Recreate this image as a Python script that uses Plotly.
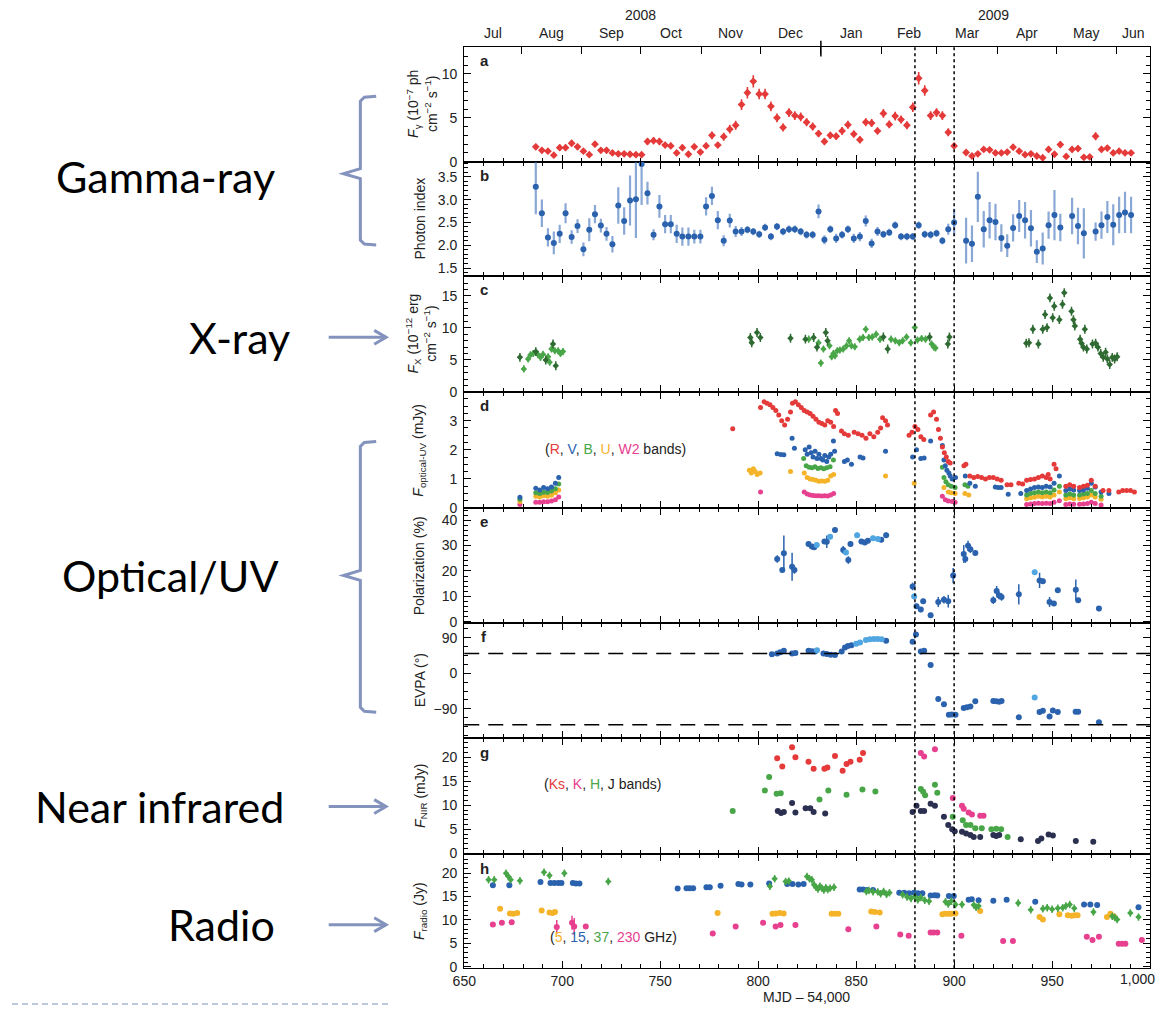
import plotly.graph_objects as go

# design space = reference pixels; the figure is drawn at the page origin
FW, FH = 1158, 1018
def px(x): return x / FW
def py(y): return 1 - y / FH

# ---------------- DATA ----------------
# a: gamma-ray flux (1e-7 ph cm-2 s-1)
gam_t = [686.5, 689.6, 692.7, 695.7, 698.7, 701.7, 704.8, 707.8, 710.8, 713.8, 716.7, 719.7, 722.6, 725.6, 728.6,
         731.6, 734.6, 737.6, 740.5, 743.5, 746.6, 749.6, 752.5, 755.4, 758.4, 761.3, 764.4, 767.4, 770.5, 773.4,
         776.4, 779.4, 782.4, 785.5, 788.5, 791.5, 794.5, 797.5, 800.5, 803.5, 806.5, 809.6, 812.7, 815.7, 818.7,
         821.7, 824.7, 827.8, 830.8, 833.8, 836.8, 839.8, 842.8, 845.8, 848.8, 851.9, 854.9, 857.9, 860.9, 863.9,
         866.9, 869.9, 872.9, 875.9, 878.9, 881.9, 885.0, 888.0, 891.0, 894.0, 897.0, 900.0, 906.1, 909.1, 912.1,
         915.1, 918.1, 921.1, 924.1, 927.1, 930.1, 933.2, 936.2, 939.2, 942.2, 945.2, 948.2, 951.2, 954.2, 957.2,
         960.2, 963.2, 966.2, 969.2, 972.2, 975.2, 978.2, 981.2, 984.2, 987.2, 990.3]
gam_f = [1.7, 1.3, 1.2, 0.75, 1.6, 1.6, 2.1, 1.7, 1.2, 0.8, 2.0, 1.3, 1.3, 1.0, 0.9,
         0.9, 0.85, 0.8, 0.8, 2.3, 2.4, 2.3, 1.9, 1.8, 1.0, 1.6, 0.85, 1.7, 1.1, 1.8,
         3.0, 1.9, 2.85, 3.7, 4.15, 6.5, 7.85, 9.15, 7.7, 7.7, 6.3, 5.0, 3.9, 5.6, 5.25,
         5.1, 4.5, 4.0, 3.2, 2.3, 3.0, 2.9, 3.5, 4.2, 3.15, 2.5, 4.5, 4.4, 3.5, 5.5,
         4.25, 5.2, 4.8, 4.15, 6.2, 9.5, 8.1, 5.25, 5.6, 5.25, 3.35, 1.8, 1.05, 0.65, 0.9,
         1.4, 1.35, 1.0, 1.0, 1.1, 1.65, 1.2, 0.8, 0.9, 0.65, 0.45, 1.4, 0.85, 1.95, 0.6,
         1.4, 1.5, 0.5, 0.55, 2.9, 1.4, 1.55, 1.0, 1.2, 1.0, 1.0]
gam_e = [0.35, 0.3, 0.3, 0.3, 0.35, 0.35, 0.35, 0.35, 0.3, 0.3, 0.35, 0.3, 0.3, 0.3, 0.3,
         0.3, 0.3, 0.3, 0.3, 0.4, 0.4, 0.4, 0.35, 0.35, 0.3, 0.35, 0.3, 0.35, 0.3, 0.35,
         0.45, 0.35, 0.45, 0.5, 0.5, 0.6, 0.65, 0.7, 0.6, 0.6, 0.55, 0.5, 0.45, 0.5, 0.5,
         0.5, 0.45, 0.45, 0.4, 0.35, 0.4, 0.4, 0.45, 0.45, 0.4, 0.4, 0.45, 0.45, 0.4, 0.5,
         0.45, 0.5, 0.45, 0.45, 0.55, 0.7, 0.6, 0.5, 0.5, 0.5, 0.45, 0.35, 0.3, 0.3, 0.3,
         0.3, 0.3, 0.3, 0.3, 0.3, 0.35, 0.3, 0.3, 0.3, 0.3, 0.3, 0.35, 0.3, 0.4, 0.3,
         0.35, 0.35, 0.3, 0.3, 0.45, 0.35, 0.35, 0.3, 0.3, 0.3, 0.3]

# b: photon index
idx_t = [686.5, 689.6, 692.7, 695.7, 698.7, 701.7, 704.8, 707.8, 710.8, 713.8, 716.7, 719.7, 722.6, 725.6, 728.6,
         731.6, 734.6, 737.6, 740.5, 743.5, 746.6, 749.6, 752.5, 755.4, 758.4, 761.3, 764.4, 767.4, 770.5, 773.4,
         776.4, 779.4, 782.4, 785.5, 788.5, 791.5, 794.5, 797.5, 800.5, 803.5, 806.5, 809.6, 812.7, 815.7, 818.7,
         821.7, 824.7, 827.8, 830.8, 833.8, 836.8, 839.8, 842.8, 845.8, 848.8, 851.9, 854.9, 857.9, 860.9, 863.9,
         866.9, 869.9, 872.9, 875.9, 878.9, 881.9, 885.0, 888.0, 891.0, 894.0, 897.0, 900.0, 906.1, 909.1, 912.1,
         915.1, 918.1, 921.1, 924.1, 927.1, 930.1, 933.2, 936.2, 939.2, 942.2, 945.2, 948.2, 951.2, 954.2,
         960.2, 963.2, 966.2, 972.2, 975.2, 978.2, 981.2, 984.2, 987.2, 990.3]
idx_v = [3.28, 2.7, 2.17, 2.05, 2.25, 2.7, 2.18, 2.42, 1.91, 2.34, 2.68, 2.43, 2.25, 2.02, 2.87,
         2.53, 2.98, 3.01, 3.78, 3.14, 2.23, 2.85, 2.46, 2.46, 2.25, 2.19, 2.19, 2.19, 2.19, 2.85,
         3.08, 2.55, 2.1, 2.54, 2.3, 2.3, 2.34, 2.3, 2.24, 2.39, 2.19, 2.41, 2.3, 2.35, 2.35,
         2.3, 2.23, 2.23, 2.74, 2.12, 2.35, 2.15, 2.23, 2.35, 2.15, 2.19, 2.53, 2.04, 2.3, 2.24,
         2.28, 2.44, 2.19, 2.19, 2.19, 2.44, 2.24, 2.23, 2.26, 2.1, 2.35, 2.5, 2.1, 2.03, 3.06,
         2.35, 2.55, 2.51, 2.16, 1.99, 2.38, 2.64, 2.55, 2.37, 1.86, 1.93, 2.44, 2.66, 2.39,
         2.64, 2.42, 2.26, 2.3, 2.44, 2.62, 2.45, 2.66, 2.72, 2.66]
idx_e = [0.6, 0.3, 0.2, 0.25, 0.2, 0.22, 0.15, 0.15, 0.15, 0.25, 0.2, 0.15, 0.15, 0.18, 0.4,
         0.3, 0.55, 0.85, 0.9, 0.25, 0.12, 0.25, 0.2, 0.2, 0.2, 0.2, 0.2, 0.15, 0.15, 0.2,
         0.2, 0.2, 0.12, 0.15, 0.12, 0.1, 0.08, 0.08, 0.08, 0.08, 0.08, 0.08, 0.08, 0.08, 0.08,
         0.08, 0.08, 0.08, 0.15, 0.1, 0.08, 0.1, 0.08, 0.08, 0.1, 0.1, 0.12, 0.1, 0.1, 0.08,
         0.08, 0.08, 0.08, 0.08, 0.08, 0.08, 0.08, 0.08, 0.08, 0.08, 0.12, 0.3, 0.5, 0.4, 0.55,
         0.4, 0.4, 0.4, 0.3, 0.25, 0.3, 0.35, 0.4, 0.4, 0.25, 0.35, 0.3, 0.55, 0.3,
         0.4, 0.4, 0.55, 0.2, 0.3, 0.35, 0.45, 0.4, 0.45, 0.4]

# c: X-ray flux (1e-12 erg cm-2 s-1), dark and light green series
xd_t = [678.4, 686.5, 691.6, 695.3, 696.7, 796.0, 796.7, 799.4, 801.1, 816.5, 824.1, 828.3, 830.0, 834.5, 835.4,
        863.9, 866.1, 887.5, 896.8, 897.6, 936.8, 938.2, 940.2, 943.0, 945.2, 946.4, 947.4, 948.9, 950.3, 951.1,
        953.7, 955.3, 956.2, 959.9, 960.9, 961.6, 964.3, 965.0, 966.0, 966.7, 967.7, 970.6, 972.2, 973.4, 974.8,
        976.1, 977.3, 978.2, 979.4, 980.7, 981.9, 983.2]
xd_v = [5.4, 6.3, 5.0, 7.5, 4.1, 8.5, 7.7, 9.3, 8.5, 8.4, 8.25, 8.5, 7.0, 9.3, 8.0,
        8.6, 6.7, 8.6, 7.5, 8.6, 7.6, 7.7, 9.8, 7.5, 9.8, 12.1, 10.05, 14.7, 11.6, 13.4,
        11.3, 13.7, 15.5, 12.6, 11.3, 10.3, 8.25, 7.6, 7.0, 9.8, 6.7, 7.5, 7.6, 7.0, 6.0,
        5.4, 6.2, 5.15, 4.3, 5.4, 5.15, 5.5]
xl_t = [680.4, 682.6, 683.8, 685.2, 687.7, 688.9, 690.2, 692.8, 693.6, 694.5, 696.2, 697.9, 699.1, 700.4,
        825.8, 830.8, 832.0, 833.3, 836.4, 837.5, 838.4, 839.2, 840.4, 841.7, 843.4, 845.1, 846.4, 847.6, 849.3,
        851.8, 853.5, 854.9, 856.5, 858.2, 860.2, 862.2, 867.8, 870.0, 872.0, 873.7, 875.7, 877.9, 879.9, 881.3,
        883.4, 885.4, 888.5, 889.7, 890.5]
xl_v = [3.6, 5.15, 5.8, 6.0, 5.8, 5.4, 5.9, 5.5, 4.65, 6.7, 6.45, 6.45, 6.0, 6.3,
        8.25, 7.7, 4.5, 6.7, 7.2, 5.5, 6.0, 5.65, 6.45, 6.55, 6.7, 7.2, 8.0, 7.2, 7.05,
        8.25, 8.5, 9.8, 8.5, 8.6, 9.0, 8.25, 8.25, 8.0, 7.7, 8.0, 8.6, 7.7, 10.05, 8.1,
        8.35, 8.25, 7.5, 7.0, 6.85]

# d: optical-UV flux (mJy)
R_t = [787.0, 801.2, 803.0, 804.5, 806.0, 807.5, 809.0, 810.5, 812.0, 813.5, 815.0, 816.5, 817.5, 819.0, 820.5,
       822.0, 823.5, 825.0, 826.5, 828.0, 829.5, 831.0, 832.5, 834.0, 835.5, 837.0, 838.5, 839.5, 840.5, 842.5,
       844.0, 846.0, 849.0, 851.0, 853.0, 855.0, 857.0, 859.0, 861.0, 862.5, 863.5, 865.0, 866.0, 877.0, 878.5,
       880.0, 881.5, 883.0, 884.5, 888.0, 889.5, 891.0, 892.0, 893.0, 894.0, 895.0, 896.0, 897.0, 898.0, 905.0,
       906.0, 908.0, 910.0, 912.0, 914.0, 916.0, 918.0, 920.0, 922.0, 924.0, 927.0, 929.0, 933.0, 935.0, 937.0,
       939.0, 941.0, 943.0, 945.0, 947.0, 948.0, 949.0, 951.0, 952.0, 957.0, 959.0, 961.0, 964.0, 966.0, 968.0,
       970.0, 972.0, 976.0, 979.0, 984.0, 986.0, 988.0, 990.0, 992.0]
R_v = [2.72, 3.45, 3.65, 3.6, 3.55, 3.45, 3.35, 3.2, 3.0, 2.85, 3.05, 3.3, 3.6, 3.65, 3.55,
       3.45, 3.35, 3.3, 3.25, 3.15, 3.05, 2.95, 2.9, 2.85, 3.0, 2.95, 2.8, 3.35, 3.25, 2.65,
       2.55, 2.5, 2.6, 2.55, 2.5, 2.4, 2.55, 2.45, 2.6, 2.75, 3.1, 3.0, 2.85, 2.5, 2.6,
       2.8, 2.7, 2.45, 2.35, 3.2, 3.3, 3.05, 2.7, 2.4, 2.1, 1.9, 1.75, 1.6, 1.55, 1.45,
       1.5, 1.1, 1.05, 1.08, 1.05, 1.0, 1.05, 1.05, 1.0, 0.95, 0.8, 0.8, 0.85, 0.82, 0.95,
       0.98, 1.0, 1.05, 1.1, 1.05, 1.15, 1.0, 1.5, 1.35, 0.75, 0.8, 0.75, 0.7, 0.75, 0.78,
       0.95, 0.75, 0.6, 0.6, 0.55, 0.6, 0.6, 0.6, 0.55]
V_t = [678.4, 686.5, 688.5, 690.5, 692.5, 694.5, 696.5, 698.2, 809.7, 811.5, 813.1, 817.3, 818.5, 824.0, 825.0,
       826.0, 827.0, 828.0, 829.0, 830.0, 831.0, 832.0, 833.0, 834.0, 835.0, 836.0, 837.0, 838.4, 839.0, 844.0,
       845.5, 847.6, 852.0, 853.5, 865.0, 878.8, 880.8, 883.0, 884.7, 888.0, 894.0, 894.8, 895.5, 896.3, 897.3,
       898.0, 899.0, 900.7, 905.7, 908.0, 910.8, 921.0, 922.5, 924.0, 927.6, 934.0, 937.0, 939.0, 941.0, 943.0,
       945.0, 947.0, 949.0, 951.0, 953.7, 957.0, 959.0, 961.0, 964.0, 966.0, 968.0, 970.0, 972.0, 975.0, 979.0]
V_v = [0.37, 0.68, 0.62, 0.7, 0.66, 0.72, 0.85, 1.05, 1.86, 1.84, 1.83, 2.4, 2.05, 2.0, 1.85,
       2.1, 1.9, 1.75, 1.95, 1.7, 1.85, 1.7, 1.65, 1.8, 1.6, 1.75, 1.85, 2.3, 1.95, 1.6,
       1.65, 1.5, 1.75, 1.72, 1.95, 1.75, 2.0, 1.7, 1.72, 2.3, 2.15, 1.65, 1.45, 1.3, 1.2,
       1.1, 1.0, 1.05, 1.1, 0.85, 0.75, 0.72, 0.7, 0.7, 0.47, 0.5, 0.6, 0.65, 0.7, 0.72,
       0.7, 0.75, 0.72, 0.85, 1.1, 0.6, 0.65, 0.62, 0.6, 0.62, 0.68, 0.85, 0.72, 0.55, 0.5]
B_t = [678.4, 686.5, 688.5, 690.5, 692.5, 694.5, 696.5, 698.2, 823.2, 824.5, 826.0, 827.5, 829.0, 830.5, 832.0,
       833.5, 835.0, 836.7, 838.4, 894.0, 894.8, 895.8, 897.0, 898.5, 900.5, 905.5, 907.0, 937.0, 939.0, 941.0,
       943.0, 945.0, 947.0, 949.0, 951.0, 953.7, 957.0, 959.0, 961.0, 964.0, 966.0, 968.0, 970.0, 972.0, 975.0]
B_v = [0.3, 0.52, 0.5, 0.54, 0.53, 0.58, 0.66, 0.82, 1.7, 1.45, 1.4, 1.38, 1.42, 1.36, 1.38,
       1.35, 1.38, 1.42, 1.65, 1.4, 1.05, 0.9, 0.8, 0.75, 0.7, 0.8, 0.75, 0.45, 0.5, 0.52,
       0.55, 0.52, 0.55, 0.52, 0.62, 0.75, 0.45, 0.48, 0.45, 0.45, 0.48, 0.5, 0.6, 0.5, 0.4]
U_t = [678.4, 686.5, 688.5, 690.5, 692.5, 694.5, 696.5, 698.2, 795.5, 796.5, 797.5, 798.5, 799.5, 801.0, 816.5,
       823.5, 825.0, 826.5, 828.0, 829.5, 831.0, 832.5, 834.0, 835.5, 837.0, 838.5, 865.0, 879.6, 894.8, 897.0,
       898.5, 900.5, 905.5, 907.5, 937.0, 939.0, 941.0, 943.0, 945.0, 947.0, 949.0, 951.0, 953.7, 957.0, 959.0,
       961.0, 964.0, 966.0, 968.0, 970.0, 972.0, 975.0]
U_v = [0.22, 0.4, 0.38, 0.42, 0.4, 0.44, 0.52, 0.62, 1.3, 1.2, 1.35, 1.25, 1.15, 1.2, 1.25,
       1.2, 1.05, 1.0, 0.98, 0.95, 0.92, 0.93, 0.92, 0.95, 1.1, 1.15, 1.1, 0.85, 0.7, 0.55,
       0.52, 0.5, 0.5, 0.45, 0.32, 0.35, 0.37, 0.4, 0.38, 0.4, 0.38, 0.45, 0.55, 0.32, 0.35,
       0.32, 0.33, 0.35, 0.38, 0.45, 0.38, 0.3]
W2_t = [678.4, 686.5, 688.5, 690.5, 692.5, 694.5, 696.5, 698.2, 801.2, 823.5, 825.0, 826.5, 828.0, 829.5, 831.0,
        832.5, 834.0, 835.5, 837.0, 838.5, 894.0, 895.5, 897.0, 899.0, 900.5, 937.0, 939.0, 941.0, 943.0, 945.0,
        947.0, 949.0, 951.0, 953.7, 957.0, 959.0, 961.0, 964.0, 966.0, 968.0, 970.0, 972.0, 975.0]
W2_v = [0.12, 0.2, 0.2, 0.21, 0.21, 0.24, 0.28, 0.38, 0.55, 0.55, 0.48, 0.45, 0.43, 0.42, 0.42,
        0.41, 0.42, 0.41, 0.45, 0.5, 0.4, 0.28, 0.24, 0.22, 0.2, 0.12, 0.14, 0.15, 0.16, 0.15,
        0.16, 0.15, 0.2, 0.25, 0.12, 0.14, 0.13, 0.13, 0.14, 0.15, 0.2, 0.15, 0.1]

# e: optical polarization degree (%)
pol_t = [809.7, 812.3, 813.1, 817.3, 818.5, 825.7, 827.4, 828.6, 833.8, 835.0, 839.2, 843.4, 846.0, 847.1, 852.7,
         854.4, 856.0, 862.8, 865.3, 878.8, 880.8, 883.0, 884.2, 888.0, 891.9, 894.8, 897.0, 899.5, 904.9, 905.7,
         907.1, 908.3, 910.8, 920.0, 921.7, 922.9, 924.2, 933.0, 943.6, 945.3, 948.7, 950.9, 952.9, 962.1, 963.3,
         973.9]
pol_v = [24.7, 20.4, 27.0, 21.7, 20.4, 30.6, 29.6, 29.3, 31.6, 31.5, 36.1, 28.3, 24.3, 30.6, 31.6,
         31.2, 31.9, 32.3, 34.1, 13.9, 6.1, 4.8, 8.1, 2.6, 7.8, 8.7, 8.1, 18.2, 26.7, 24.7,
         29.9, 28.6, 27.1, 8.5, 12.1, 10.4, 9.8, 10.8, 16.3, 16.0, 7.8, 7.2, 12.4, 12.6, 8.5,
         5.2]
pol_e = [1.5, 1.0, 7.0, 5.5, 1.5, 1.0, 1.0, 1.0, 1.0, 2.5, 1.0, 1.5, 1.5, 1.0, 1.0,
         1.0, 1.0, 1.0, 1.0, 1.5, 1.0, 1.0, 1.0, 1.0, 2.0, 1.5, 2.5, 3.0, 3.5, 1.5,
         2.0, 1.5, 1.0, 1.5, 2.0, 1.5, 1.5, 4.0, 3.0, 1.0, 2.0, 1.0, 1.0, 4.0, 1.0,
         1.0]
polL_t = [829.9, 836.7, 844.8, 850.5, 858.6, 861.1, 879.6, 941.1]
polL_v = [30.2, 33.5, 27.3, 34.1, 32.9, 32.6, 10.0, 19.5]

# f: EVPA (deg)
evpa_t = [807.0, 809.7, 811.3, 813.1, 817.3, 819.0, 825.7, 827.4, 829.0, 833.3, 835.0, 837.0, 839.2, 842.6, 844.3,
          845.8, 847.6, 865.3, 878.8, 880.5, 883.0, 884.7, 888.0, 891.9, 894.8, 897.3, 898.8, 900.7, 904.9, 906.5,
          908.3, 910.8, 920.0, 921.5, 923.0, 924.2, 933.0, 943.6, 945.3, 948.7, 950.4, 952.9, 962.0, 963.3, 973.9]
evpa_v = [48, 50, 53, 57, 50, 51, 57, 56, 55, 50, 49, 47, 46, 55, 65,
          69, 71, 82, 80, 98, 55, 57, 21, -65, -78, -105, -104, -105, -88, -86,
          -84, -71, -70, -71, -72, -70, -111, -98, -95, -109, -94, -98, -97, -97, -124]
evpaL_t = [830.0, 850.0, 852.0, 855.0, 857.0, 859.0, 861.0, 863.0, 941.1]
evpaL_v = [58, 75, 78, 84, 86, 87, 87, 86, -61]
evpa_ref = [50, -130]

# g: near-infrared flux (mJy)
Ks_t = [809.7, 812.3, 817.3, 819.0, 825.7, 828.3, 833.8, 835.3, 839.2, 843.1, 845.1, 847.1, 851.8, 853.5]
Ks_v = [19.8, 18.1, 22.1, 20.0, 19.1, 17.6, 17.6, 17.9, 20.3, 17.2, 18.6, 19.1, 19.5, 20.9]
K_t = [883.0, 884.7, 890.2, 899.3, 904.0, 904.9, 907.4, 909.1, 913.3, 915.0]
K_v = [20.9, 20.2, 21.7, 11.5, 9.9, 9.3, 8.5, 8.1, 7.8, 7.8]
Hb_t = [787.0, 803.4, 805.6, 809.4, 811.5, 831.3, 835.8, 845.1, 853.2, 859.8, 883.0, 884.2, 885.2, 890.2, 891.4,
        899.3, 904.4, 906.1, 908.3, 910.8, 914.1, 919.0, 921.5, 924.0, 927.3]
Hb_v = [8.8, 13.1, 15.9, 12.4, 12.5, 11.2, 13.1, 12.2, 13.3, 12.9, 13.4, 12.8, 12.1, 14.3, 12.6,
        7.6, 6.9, 5.9, 5.9, 5.2, 5.2, 5.0, 5.1, 5.0, 3.4]
J_t = [810.0, 811.7, 813.1, 817.3, 819.0, 824.2, 826.6, 828.3, 834.2, 878.8, 880.8, 883.0, 884.7, 888.0, 890.2,
       894.8, 897.0, 899.0, 900.3, 904.0, 906.1, 908.3, 910.0, 913.3, 920.0, 921.5, 923.0, 934.0, 942.8, 944.5,
       948.2, 950.4, 962.1, 971.0]
J_v = [8.8, 8.4, 8.6, 10.5, 8.5, 9.4, 9.4, 8.6, 8.3, 8.6, 9.9, 8.8, 8.8, 10.3, 9.9,
       7.6, 5.9, 5.0, 4.6, 4.5, 4.1, 3.8, 3.4, 3.4, 3.8, 3.6, 3.8, 2.9, 2.55, 3.1,
       3.9, 3.7, 2.55, 2.4]

# h: radio flux (Jy)
r15_t = [664.6, 673.0, 688.9, 694.0, 696.0, 698.0, 699.6, 705.4, 707.0, 708.8, 758.9, 763.4, 765.0, 766.8, 773.6,
         775.3, 780.8, 789.9, 791.5, 796.0, 805.6, 814.8, 817.5, 820.5, 823.2, 851.8, 853.5, 855.5, 858.6, 872.0,
         874.5, 877.0, 879.5, 881.5, 883.8, 888.0, 890.0, 891.4, 897.3, 899.8, 907.4, 909.0, 912.5, 920.0, 926.8,
         941.4, 966.3, 969.5, 973.0, 994.1]
r15_v = [17.4, 17.4, 18.1, 17.9, 17.9, 17.9, 17.9, 17.9, 17.8, 17.8, 16.7, 16.8, 16.8, 16.8, 17.0,
         17.0, 17.3, 17.7, 17.6, 17.6, 17.8, 17.7, 17.7, 17.6, 17.7, 16.5, 16.5, 16.4, 16.4, 15.8,
         15.8, 15.7, 15.8, 15.7, 15.7, 15.2, 15.3, 15.2, 15.1, 15.1, 14.3, 14.4, 14.2, 14.1, 14.3,
         13.9, 13.3, 13.3, 13.2, 12.7]
r37_t = [662.4, 665.3, 671.3, 672.5, 673.7, 678.4, 690.7, 693.5, 701.1, 723.5, 806.0, 808.4, 814.0, 815.6, 824.9,
         826.2, 827.4, 828.5, 829.5, 830.5, 831.5, 832.5, 833.5, 834.5, 835.5, 836.7, 838.7, 855.2, 856.5, 858.6,
         861.0, 862.5, 864.0, 865.5, 867.0, 873.7, 876.0, 878.0, 880.0, 881.5, 883.0, 885.0, 887.2, 895.6, 897.0,
         898.5, 900.7, 904.0, 910.0, 911.2, 912.5, 932.7, 939.1, 945.3, 947.5, 950.0, 952.9, 955.4, 957.0, 959.0,
         961.3, 971.1, 980.7, 982.0, 983.2, 989.9, 994.1]
r37_v = [18.6, 18.6, 20.0, 19.3, 18.6, 18.4, 20.2, 19.5, 20.0, 18.2, 17.2, 18.8, 18.2, 18.3, 19.3,
         18.8, 18.6, 17.5, 17.0, 16.6, 17.2, 16.8, 16.4, 16.9, 16.5, 16.8, 17.0, 16.1, 16.3, 16.0,
         16.0, 15.6, 16.1, 15.5, 15.8, 15.4, 14.9, 14.6, 15.0, 14.3, 14.8, 14.2, 14.0, 13.9, 13.4,
         14.0, 13.3, 13.3, 13.2, 12.7, 13.0, 13.6, 12.2, 12.4, 12.6, 12.3, 12.5, 12.6, 13.0, 13.3,
         12.5, 11.7, 10.8, 10.5, 10.1, 11.5, 10.6]
r5_t = [668.3, 673.3, 675.0, 677.0, 689.5, 693.5, 695.0, 696.3, 779.3, 807.3, 809.0, 811.0, 813.0, 837.5, 839.2,
        840.9, 857.7, 859.5, 862.0, 894.0, 895.5, 897.0, 898.5, 900.7, 913.3, 943.6, 945.3, 953.7, 958.0, 960.0,
        961.5, 963.0, 978.0, 979.8, 981.5]
r5_v = [12.4, 11.4, 11.3, 11.5, 12.0, 11.6, 11.5, 11.7, 11.5, 11.3, 11.4, 11.5, 11.4, 11.3, 11.3,
        11.3, 11.8, 11.7, 11.6, 11.2, 11.3, 11.3, 11.3, 11.4, 11.9, 10.6, 10.1, 11.2, 11.0, 10.9,
        11.0, 11.0, 10.6, 11.3, 10.8]
r230_t = [664.6, 669.2, 674.2, 697.2, 705.0, 706.1, 712.0, 776.8, 788.5, 802.5, 808.9, 811.4, 819.0, 846.0, 860.3,
          872.5, 876.8, 888.0, 889.5, 891.4, 903.7, 925.0, 930.0, 967.7, 970.6, 973.9, 984.0, 985.7, 987.4, 995.8]
r230_v = [9.0, 9.4, 9.5, 8.5, 9.4, 8.6, 8.6, 7.1, 8.6, 9.4, 8.6, 8.9, 8.9, 8.0, 8.6,
          6.9, 6.6, 7.3, 7.3, 7.3, 6.6, 5.5, 5.5, 6.4, 5.7, 6.4, 4.9, 4.9, 4.9, 5.7]
r230_e = [0.4, 0.4, 0.4, 1.5, 1.5, 1.8, 0.4, 0.4, 0.4, 0.4, 0.4, 0.4, 0.4, 0.4, 0.4,
          0.4, 0.4, 0.4, 0.4, 0.4, 0.4, 0.4, 0.4, 0.4, 0.4, 0.4, 0.4, 0.4, 0.4, 0.4]

event_days = [880, 900]
month_edges = [679, 710, 740, 771, 801, 832, 863, 891, 922, 952, 983]
month_labels = ["Jul", "Aug", "Sep", "Oct", "Nov", "Dec", "Jan", "Feb", "Mar", "Apr", "May", "Jun"]
month_mid = [664.5, 694.5, 725, 755.5, 786, 816.5, 847.5, 877, 906.5, 937, 967.5, 991.5]
year_labels = ["2008", "2009"]
year_pos = [740, 920]
year_edge = 832
xtick_vals = [650, 700, 750, 800, 850, 900, 950]
xtick_text = ["650", "700", "750", "800", "850", "900", "950"]
last_tick, last_label = 1000, "1,000"

# ---------------- STYLE ----------------
RED = "#e53a3a"
BLUE = "#2b62ae"
LBLUE = "#4fa6e0"
GREEN = "#48a648"
DGREEN = "#2f6a32"
ORANGE = "#f4b328"
PINK = "#e6408f"
NAVY = "#2c3050"
FONT = "Liberation Sans, Arial, sans-serif"
TXT = "#222222"
BRK = "#8493bd"

edges = [47, 163, 278, 395, 512, 628, 744, 861, 976]
XL, XR = 457, 1150

fig = go.Figure()

def ax(p, kind):
    return kind if p == 1 else f"{kind}{p}"

def add(p, xs, ys, color, size=6, ey=None, ex=None, ecol=None, eth=1.5, symbol="circle"):
    kw = {}
    if ey is not None:
        if isinstance(ey, (int, float)):
            kw["error_y"] = dict(type="constant", value=ey, color=ecol or color, thickness=eth, width=0)
        else:
            kw["error_y"] = dict(type="data", array=ey, color=ecol or color, thickness=eth, width=0)
    if ex is not None:
        kw["error_x"] = dict(type="constant", value=ex, color=ecol or color, thickness=eth, width=0)
    fig.add_trace(go.Scatter(x=xs, y=ys, mode="markers", xaxis=ax(p, "x"), yaxis=ax(p, "y"),
                             marker=dict(color=color, size=size, symbol=symbol, line=dict(width=0)),
                             showlegend=False, hoverinfo="skip", **kw))

# a
add(1, gam_t, gam_f, RED, size=6, ey=gam_e, ex=1.2, eth=1.6, symbol="diamond")
# b
add(2, idx_t, idx_v, BLUE, size=6, ey=idx_e, ecol="rgba(60,110,185,0.6)", eth=2.2)
# c
add(3, xl_t, xl_v, GREEN, size=5, ey=0.55, ex=0.4, eth=1.5, symbol="diamond")
add(3, xd_t, xd_v, DGREEN, size=5, ey=0.7, ex=0.4, eth=1.5, symbol="diamond")
# d
add(4, W2_t, W2_v, PINK, size=5, ey=0.03)
add(4, U_t, U_v, ORANGE, size=5, ey=0.04)
add(4, B_t, B_v, GREEN, size=5, ey=0.05)
add(4, V_t, V_v, BLUE, size=5, ey=0.06)
add(4, R_t, R_v, RED, size=5, ey=0.06)
# e
add(5, pol_t, pol_v, BLUE, size=6, ey=pol_e)
add(5, polL_t, polL_v, LBLUE, size=6, ey=1.0)
# f
add(6, evpa_t, evpa_v, BLUE, size=6, ey=3)
add(6, evpaL_t, evpaL_v, LBLUE, size=6, ey=3)
# g
add(7, Hb_t, Hb_v, GREEN, size=6)
add(7, J_t, J_v, NAVY, size=6)
add(7, Ks_t, Ks_v, RED, size=6)
add(7, K_t, K_v, PINK, size=6)
# h
add(8, r230_t, r230_v, PINK, size=6, ey=r230_e)
add(8, r5_t, r5_v, ORANGE, size=6, ey=0.3)
add(8, r15_t, r15_v, BLUE, size=6, ey=0.2)
add(8, r37_t, r37_v, GREEN, size=5, ey=0.8, symbol="diamond")

# dummy trace for top month axis
fig.add_trace(go.Scatter(x=[None], y=[None], xaxis="x9", yaxis="y", showlegend=False, hoverinfo="skip"))

yranges = [[0, 13.1], [1.33, 3.83], [0, 18.15], [0, 3.99], [-0.5, 44.8], [-164, 127], [-0.2, 24.0], [-0.35, 24.05]]
ydt = [5, 0.5, 5, 1, 10, 90, 5, 5]
ymin = [1, 0.1, 1, 0.25, 2, 22.5, 1, 1]
yfmt = ["", ".1f", "", "", "", "", "", ""]

layout = dict(width=FW, height=FH, autosize=False, margin=dict(l=0, r=0, t=0, b=0, pad=0),
              paper_bgcolor="white", plot_bgcolor="white",
              font=dict(family=FONT, size=14, color=TXT), showlegend=False)

for p in range(1, 9):
    top, bot = edges[p - 1], edges[p]
    xa = dict(domain=[px(XL), px(XR)], anchor=ax(p, "y"), range=[650, 1000],
              showline=True, linecolor="black", linewidth=1.3,
              mirror=("ticks" if p > 1 else True),
              ticks="inside", ticklen=7, tickwidth=1.3, tickcolor="black",
              tickmode="linear", tick0=650, dtick=50,
              minor=dict(ticks="inside", ticklen=4, tickwidth=1.2, tickcolor="black", tick0=650, dtick=10),
              showgrid=False, zeroline=False, showticklabels=False)
    ya = dict(domain=[py(bot), py(top)], anchor=ax(p, "x"), range=yranges[p - 1],
              showline=True, linecolor="black", linewidth=1.3, mirror="ticks",
              ticks="inside", ticklen=7, tickwidth=1.3, tickcolor="black",
              tickmode="linear", tick0=0, dtick=ydt[p - 1],
              minor=dict(ticks="inside", ticklen=4, tickwidth=1.1, tickcolor="black", tick0=0, dtick=ymin[p - 1]),
              showgrid=False, zeroline=False, tickfont=dict(family=FONT, size=14, color=TXT), ticklabelstandoff=3)
    if yfmt[p - 1]:
        ya["tickformat"] = yfmt[p - 1]
    layout["xaxis" if p == 1 else f"xaxis{p}"] = xa
    layout["yaxis" if p == 1 else f"yaxis{p}"] = ya

# bottom axis labels
layout["xaxis8"].update(showticklabels=True, tickmode="array", tickvals=xtick_vals + [last_tick],
                        ticktext=xtick_text + [""], ticklabeloverflow="allow",
                        tickfont=dict(family=FONT, size=14, color=TXT))

layout["yaxis6"]["tickmode"] = "array"
layout["yaxis6"]["tickvals"] = [-90, 0, 90]
layout["yaxis6"]["ticktext"] = ["\u221290", "0", "90"]
layout["yaxis2"]["tick0"] = 1.5

layout["xaxis9"] = dict(overlaying="x", anchor="y", side="top", range=[650, 1000],
                        tickmode="array", tickvals=month_edges, ticks="inside", ticklen=7,
                        tickwidth=1.3, tickcolor="black", showticklabels=False,
                        showline=True, linecolor="black", linewidth=1.3, showgrid=False, zeroline=False)

fig.update_layout(**layout)

ann = []
# last x tick label, kept inside the figure edge
ann.append(dict(x=px(FW - 1), y=py(987), xref="paper", yref="paper", text=last_label, showarrow=False,
                font=dict(family=FONT, size=14, color=TXT), xanchor="right", yanchor="middle"))
# month / year labels
for m, xm in zip(month_labels, month_mid):
    ann.append(dict(x=xm, y=py(33), xref="x", yref="paper", text=m, showarrow=False,
                    font=dict(family=FONT, size=14, color=TXT), xanchor="center", yanchor="middle"))
for yl, xp in zip(year_labels, year_pos):
    ann.append(dict(x=xp, y=py(15), xref="x", yref="paper", text=yl, showarrow=False,
                    font=dict(family=FONT, size=14, color=TXT), xanchor="center", yanchor="middle"))

# panel letters
for p, letter in enumerate("abcdefgh", start=1):
    ann.append(dict(x=px(477), y=py(edges[p - 1] + 14), xref="paper", yref="paper", text=f"<b>{letter}</b>",
                    showarrow=False, font=dict(family=FONT, size=15, color=TXT), xanchor="center", yanchor="middle"))

# y titles
ytitles = ["<i>F</i><sub>\u03b3</sub> (10<sup>\u22127</sup> ph<br>cm<sup>\u22122</sup> s<sup>\u22121</sup>)",
           "Photon index",
           "<i>F</i><sub>X</sub> (10<sup>\u221212</sup> erg<br>cm<sup>\u22122</sup> s<sup>\u22121</sup>)",
           "<i>F</i><sub>optical-UV</sub> (mJy)",
           "Polarization (%)",
           "EVPA (\u00b0)",
           "<i>F</i><sub>NIR</sub> (mJy)",
           "<i>F</i><sub>radio</sub> (Jy)"]
ytx = [414, 412, 413, 411, 411, 412, 413, 413]
for p, t in enumerate(ytitles, start=1):
    ymid = (edges[p - 1] + edges[p]) / 2
    ann.append(dict(x=px(ytx[p - 1]), y=py(ymid), xref="paper", yref="paper", text=t, textangle=-90,
                    showarrow=False, font=dict(family=FONT, size=14, color=TXT), xanchor="center", yanchor="middle"))

# band legends
ann.append(dict(x=px(610), y=py(453), xref="paper", yref="paper", showarrow=False,
                font=dict(family=FONT, size=14, color=TXT),
                text=f"(<span style='color:{RED}'>R</span>, <span style='color:{BLUE}'>V</span>, "
                     f"<span style='color:{GREEN}'>B</span>, <span style='color:{ORANGE}'>U</span>, "
                     f"<span style='color:{PINK}'>W2</span> bands)"))
ann.append(dict(x=px(597), y=py(800), xref="paper", yref="paper", showarrow=False,
                font=dict(family=FONT, size=14, color=TXT),
                text=f"(<span style='color:{RED}'>Ks</span>, <span style='color:{PINK}'>K</span>, "
                     f"<span style='color:{GREEN}'>H</span>, J bands)"))
ann.append(dict(x=px(608), y=py(955), xref="paper", yref="paper", showarrow=False,
                font=dict(family=FONT, size=14, color=TXT),
                text=f"(<span style='color:{ORANGE}'>5</span>, <span style='color:{BLUE}'>15</span>, "
                     f"<span style='color:{GREEN}'>37</span>, <span style='color:{PINK}'>230</span> GHz)"))
# x title
ann.append(dict(x=px(803), y=py(1005), xref="paper", yref="paper", text="MJD \u2013 54,000", showarrow=False,
                font=dict(family=FONT, size=14, color=TXT), xanchor="center", yanchor="middle"))

# left labels
LFONT = "Lato, Open Sans, sans-serif"
for txt, xr, yc in [("Gamma-ray", 268, 178), ("X-ray", 283, 340), ("Optical/UV", 272, 580),
                    ("Near infrared", 277, 813), ("Radio", 268, 932)]:
    ann.append(dict(x=px(xr), y=py(yc), xref="paper", yref="paper", text=txt, showarrow=False,
                    font=dict(family=LFONT, size=43, color="black"), xanchor="right", yanchor="middle"))

shapes = []
# event lines
for d in event_days:
    shapes.append(dict(type="line", xref="x", yref="paper", x0=d, x1=d, y0=py(edges[-1]), y1=py(edges[0]),
                       line=dict(color="black", width=1.5, dash="dot"), layer="above"))
# year tick
shapes.append(dict(type="line", xref="x", yref="paper", x0=year_edge, x1=year_edge, y0=py(57), y1=py(41),
                   line=dict(color="black", width=1.5)))
# EVPA reference lines
for v in evpa_ref:
    shapes.append(dict(type="line", xref="x6 domain", yref="y6", x0=0, x1=1, y0=v, y1=v,
                       line=dict(color="black", width=1.4, dash="15px,9px")))

def P(x, y):
    return f"{px(x):.5f},{py(y):.5f}"

def bracket(top, bot, mid):
    return ("M " + P(368, top) + " L " + P(356, top + 1) + " L " + P(352, top + 5) +
            " L " + P(352, mid - 5) + " L " + P(335, mid) + " L " + P(352, mid + 5) +
            " L " + P(352, bot - 5) + " L " + P(356, bot - 1) + " L " + P(368, bot))

for top, bot, mid in [(97, 247, 175), (445, 718, 580)]:
    shapes.append(dict(type="path", xref="paper", yref="paper", path=bracket(top, bot, mid),
                       line=dict(color=BRK, width=3)))
for yc in [340, 813, 932]:
    shapes.append(dict(type="line", xref="paper", yref="paper", x0=px(320), x1=px(378), y0=py(yc), y1=py(yc),
                       line=dict(color=BRK, width=3)))
    shapes.append(dict(type="path", xref="paper", yref="paper",
                       path="M " + P(366, yc - 7) + " L " + P(378, yc) + " L " + P(366, yc + 7),
                       line=dict(color=BRK, width=3)))
shapes.append(dict(type="line", xref="paper", yref="paper", x0=0, x1=px(382), y0=py(1012), y1=py(1012),
                   line=dict(color="#a8b6d2", width=1.5, dash="6px,4px")))

fig.update_layout(annotations=ann, shapes=shapes)
fig.write_html("out.html", config={"responsive": False})
